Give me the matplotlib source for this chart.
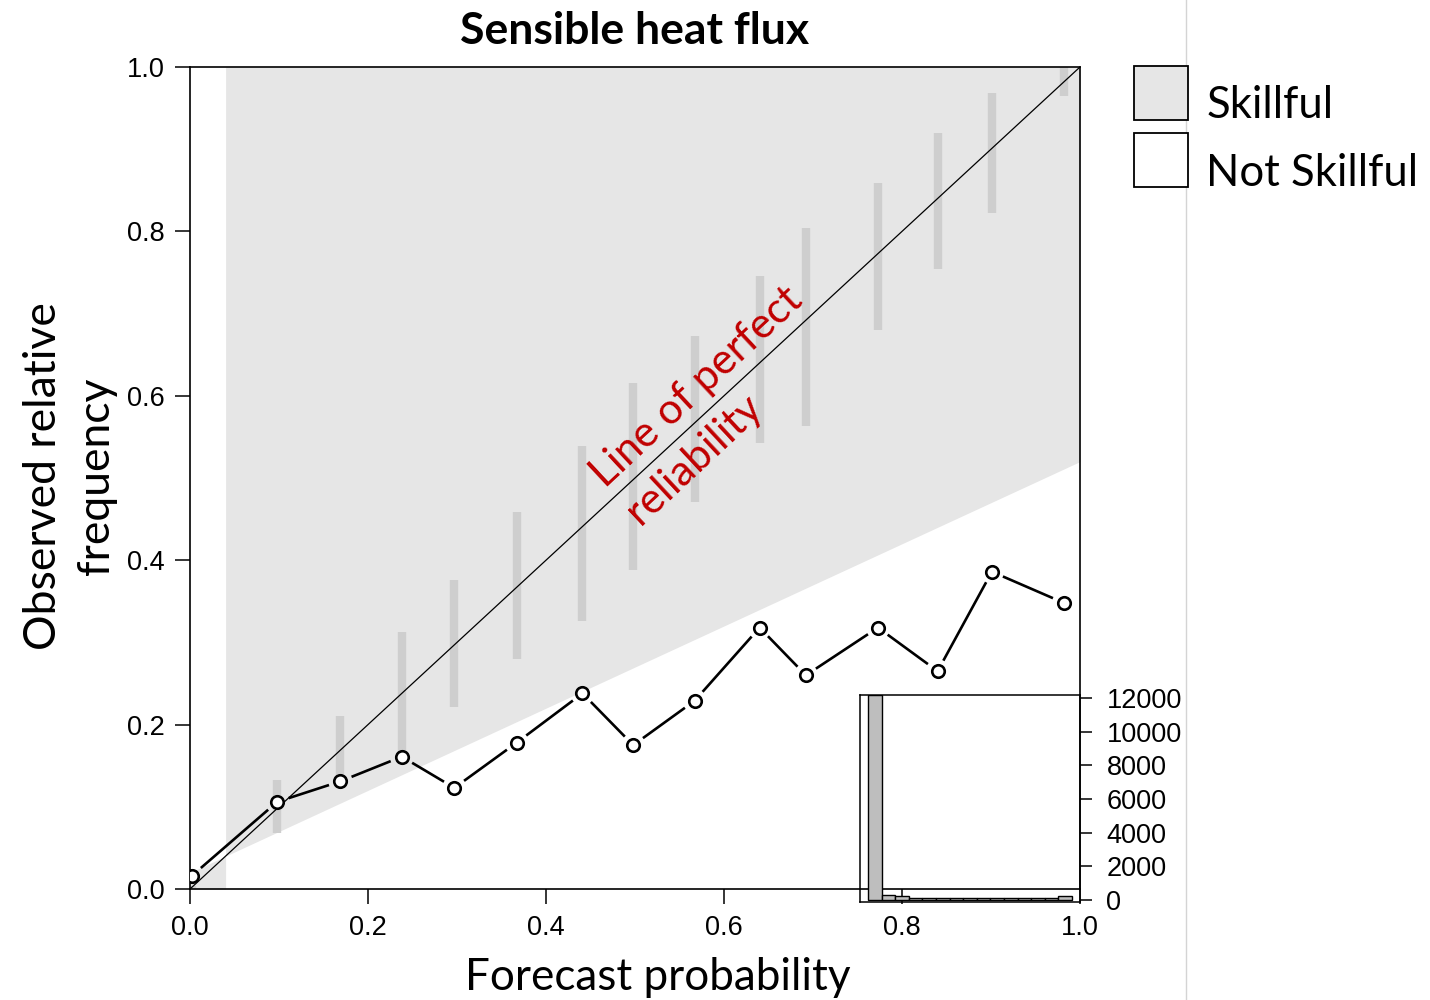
import matplotlib
matplotlib.use("Agg")
import matplotlib.pyplot as plt
import numpy as np
from matplotlib.patches import Patch
from matplotlib.lines import Line2D

# Mean forecast probability and observed relative frequency in each bin.
fcst = [0.002, 0.098, 0.169, 0.238, 0.297, 0.367, 0.441, 0.498, 0.567,
        0.640, 0.692, 0.773, 0.840, 0.901, 0.982]
obs = [0.016, 0.106, 0.131, 0.161, 0.123, 0.178, 0.238, 0.175, 0.229,
       0.318, 0.260, 0.318, 0.265, 0.386, 0.348]

# Consistency bars around the line of perfect reliability.
bar_lo = [0.000, 0.068, 0.127, 0.163, 0.221, 0.280, 0.326, 0.388, 0.471,
          0.543, 0.563, 0.680, 0.754, 0.822, 0.965]
bar_hi = [0.004, 0.133, 0.211, 0.313, 0.376, 0.459, 0.539, 0.616, 0.673,
          0.746, 0.804, 0.859, 0.920, 0.968, 1.000]

# Climatological frequency (sets the no-skill line).
clim = 0.04

# Number of forecasts in each of the 15 bins (inset histogram).
bin_left = np.linspace(0, 1, 16)[:-1]
counts = [12180, 300, 250, 130, 120, 110, 100, 100, 100, 100, 90, 100, 100, 100, 220]

ticks_main = [0.0, 0.2, 0.4, 0.6, 0.8, 1.0]
ticks_hist = [0, 2000, 4000, 6000, 8000, 10000, 12000]

label_font = "Lato"
tick_font = "Liberation Sans"
shade = "#E6E6E6"

fig = plt.figure(figsize=(14.3, 10), dpi=100)
ax = fig.add_axes([190 / 1430, 111 / 1000, 890 / 1430, 822 / 1000])
ax.set_xlim(0, 1)
ax.set_ylim(0, 1)

# Skillful region: between no-skill line and perfect reliability side.
xl = np.array([0, clim])
ax.fill_between(xl, 0, (xl + clim) / 2, color=shade, lw=0, zorder=1)
xr = np.array([clim, 1])
ax.fill_between(xr, (xr + clim) / 2, 1, color=shade, lw=0, zorder=1)

ax.vlines(fcst, bar_lo, bar_hi, color="#CECECE", lw=6, zorder=2)
ax.plot([0, 1], [0, 1], color="k", lw=0.9, zorder=3)

# Lines between points with a gap around each marker (like R type="b").
gap = 12
pts = ax.transData.transform(np.column_stack([fcst, obs]))
for p0, p1 in zip(pts[:-1], pts[1:]):
    d = p1 - p0
    n = np.hypot(*d)
    if n <= 2 * gap:
        continue
    u = d / n
    seg = ax.transData.inverted().transform([p0 + gap * u, p1 - gap * u])
    ax.plot(seg[:, 0], seg[:, 1], color="k", lw=1.9, solid_capstyle="butt", zorder=4)
ax.plot(fcst, obs, "o", ms=9, mfc="white", mec="k", mew=1.9, zorder=5)

ax.text(0.589, 0.588, "Line of perfect\nreliability", rotation=43,
        rotation_mode="anchor", ha="center", va="center", multialignment="left",
        color="#C00000", fontsize=30.5, family=label_font, linespacing=1.4, zorder=6)

ax.set_xticks(ticks_main)
ax.set_yticks(ticks_main)
ax.set_xticklabels([f"{t:.1f}" for t in ticks_main], family=tick_font)
ax.set_yticklabels([f"{t:.1f}" for t in ticks_main], family=tick_font)
ax.tick_params(axis="both", direction="out", length=10.5, width=1.1, labelsize=19.5)
ax.tick_params(axis="x", pad=8)
ax.tick_params(axis="y", pad=8)
for s in ax.spines.values():
    s.set_linewidth(1.2)

# Inset histogram of forecast counts.
axin = fig.add_axes([860 / 1430, 98 / 1000, 220 / 1430, 207 / 1000], facecolor="none")
axin.bar(bin_left, counts, width=1 / 15, align="edge", color="#BEBEBE",
         edgecolor="k", lw=1)
axin.set_xlim(-0.04, 1.04)
axin.set_ylim(-120, 12180)
axin.set_xticks([])
axin.yaxis.tick_right()
axin.set_yticks(ticks_hist)
axin.set_yticklabels([str(t) for t in ticks_hist], family=tick_font)
axin.tick_params(axis="y", direction="out", length=8.5, width=1.1, labelsize=19.5, pad=10.5)
for s in axin.spines.values():
    s.set_linewidth(1.1)

fig.text(635 / 1430, 1 - 44 / 1000, "Sensible heat flux", ha="center",
         va="baseline", fontsize=32, weight="bold", family=label_font)
fig.text(658 / 1430, 10 / 1000, "Forecast probability", ha="center",
         va="baseline", fontsize=31.7, family=label_font)
fig.text(70 / 1430, 1 - 476 / 1000, "Observed relative\nfrequency", rotation=90,
         ha="center", va="center", multialignment="center", fontsize=32,
         family=label_font, linespacing=1.35)

handles = [Patch(facecolor=shade, edgecolor="k", lw=1.3, label="Skillful"),
           Patch(facecolor="white", edgecolor="k", lw=1.3, label="Not Skillful")]
leg = fig.legend(handles=handles, loc="upper left",
                 bbox_to_anchor=(1134 / 1430, 1 - 66 / 1000),
                 frameon=False, prop={"family": label_font, "size": 31.4},
                 handlelength=1.24, handleheight=1.53, handletextpad=0.42,
                 labelspacing=0.3, borderpad=0, borderaxespad=0)
# labels sit a little below the box centres in the original
for t in leg.get_texts():
    t.set_y(-11)

fig.add_artist(Line2D([1186 / 1430, 1186 / 1430], [0, 1], transform=fig.transFigure,
                      color="#D4D4D4", lw=1))

fig.savefig("out.png", dpi=100)
